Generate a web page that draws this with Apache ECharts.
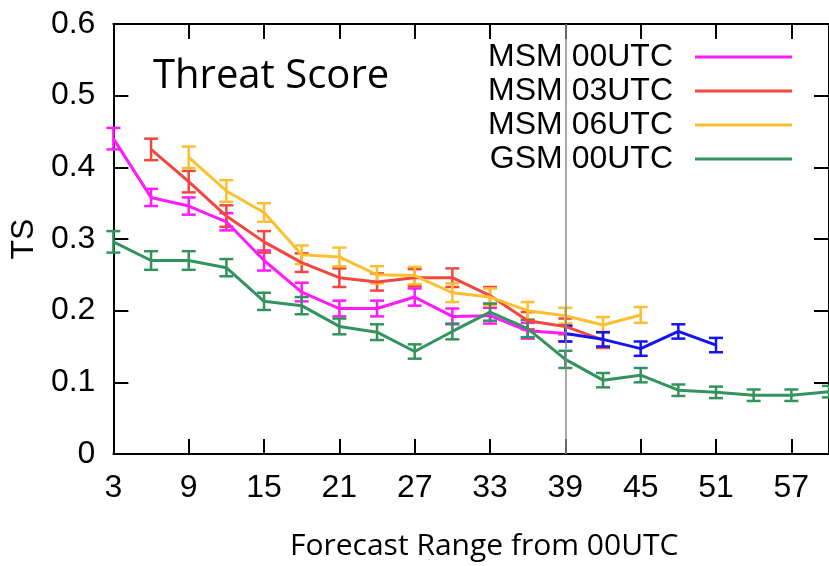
<!DOCTYPE html>
<html>
<head>
<meta charset="utf-8">
<script src="https://cdn.jsdelivr.net/npm/echarts@6/dist/echarts.min.js"></script>
<style>
  html, body { margin: 0; padding: 0; background: #fff; }
  #chart { width: 829px; height: 566px; }
</style>
</head>
<body>
<div id="chart"></div>
<script>
// forecast hours (x axis)
const hours = [3, 6, 9, 12, 15, 18, 21, 24, 27, 30, 33, 36, 39, 42, 45, 48, 51, 54, 57, 60];
const xTicks = [3, 9, 15, 21, 27, 33, 39, 45, 51, 57];

// threat score per model run (null = no data)
const msm00 = [0.44, 0.358, 0.346, 0.324, 0.27, 0.226, 0.203, 0.203, 0.219, 0.192, 0.193, 0.172, 0.168, null, null, null, null, null, null, null];
const msm03 = [null, 0.425, 0.38, 0.332, 0.296, 0.267, 0.246, 0.24, 0.246, 0.246, 0.221, 0.186, 0.178, 0.159, null, null, null, null, null, null];
const msm06 = [null, null, 0.414, 0.367, 0.337, 0.278, 0.275, 0.25, 0.249, 0.225, 0.219, 0.2, 0.193, 0.18, 0.194, null, null, null, null, null];
const gsm00 = [0.296, 0.27, 0.27, 0.26, 0.213, 0.207, 0.178, 0.17, 0.143, 0.171, 0.198, 0.175, 0.132, 0.103, 0.11, 0.089, 0.086, 0.082, 0.082, 0.087];
const msm00next = [null, null, null, null, null, null, null, null, null, null, null, null, 0.168, 0.16, 0.147, 0.171, 0.152, null, null, null];

// error bar half widths
const msm00Err = [0.015, 0.012, 0.012, 0.012, 0.014, 0.013, 0.011, 0.011, 0.012, 0.011, 0.011, 0.011, 0.011, null, null, null, null, null, null, null];
const msm03Err = [null, 0.015, 0.015, 0.015, 0.015, 0.013, 0.013, 0.012, 0.012, 0.013, 0.012, 0.012, 0.011, 0.011, null, null, null, null, null, null];
const msm06Err = [null, null, 0.015, 0.015, 0.013, 0.013, 0.013, 0.012, 0.012, 0.013, 0.012, 0.012, 0.011, 0.011, 0.011, null, null, null, null, null];
const gsm00Err = [0.015, 0.013, 0.013, 0.012, 0.012, 0.012, 0.011, 0.011, 0.01, 0.011, 0.012, 0.012, 0.012, 0.01, 0.01, 0.008, 0.008, 0.008, 0.008, 0.008];
const msm00nextErr = [null, null, null, null, null, null, null, null, null, null, null, null, 0.011, 0.01, 0.01, 0.01, 0.01, null, null, null];

const lineFont = 'Liberation Sans, Arial, sans-serif';
const labelFont = 'Open Sans, Noto Sans, sans-serif';

const chart = echarts.init(document.getElementById('chart'));

const toPairs = (vals) => hours.map((h, i) => [h, vals[i]]).filter(p => p[1] != null);
const toErr = (vals, errs) => hours
  .map((h, i) => [h, vals[i], errs[i]])
  .filter(p => p[1] != null)
  .map(p => [p[0], p[1] - p[2], p[1] + p[2]]);

// error bars drawn with caps
const errorSeries = (name, vals, errs, color) => ({
  name: name,
  type: 'custom',
  silent: true,
  data: toErr(vals, errs),
  renderItem: (params, api) => {
    const lo = api.coord([api.value(0), api.value(1)]);
    const hi = api.coord([api.value(0), api.value(2)]);
    const w = 7;
    const style = { stroke: color, lineWidth: 2.5 };
    return {
      type: 'group',
      children: [
        { type: 'line', shape: { x1: lo[0], y1: lo[1], x2: hi[0], y2: hi[1] }, style: style },
        { type: 'line', shape: { x1: lo[0] - w, y1: lo[1], x2: lo[0] + w, y2: lo[1] }, style: style },
        { type: 'line', shape: { x1: hi[0] - w, y1: hi[1], x2: hi[0] + w, y2: hi[1] }, style: style }
      ]
    };
  }
});

const lineSeries = (name, vals, color) => ({
  name: name,
  type: 'line',
  data: toPairs(vals),
  showSymbol: false,
  symbol: 'none',
  color: color,
  lineStyle: { color: color, width: 3 },
  silent: true
});

// mirrored frame: ticks point inward on all four sides
const axisLine = { show: true, onZero: false, lineStyle: { color: '#000', width: 2 } };
const axisTick = { show: true, inside: true, length: 15, lineStyle: { color: '#000', width: 2 } };

const option = {
  animation: false,
  grid: { left: 110, right: -2, top: 24, bottom: 111 },
  title: {
    text: 'Threat Score',
    left: 148,
    top: 52,
    textStyle: { fontFamily: labelFont, fontSize: 40, fontWeight: 'normal', color: '#000' }
  },
  legend: {
    data: ['MSM 00UTC', 'MSM 03UTC', 'MSM 06UTC', 'GSM 00UTC'],
    orient: 'vertical',
    align: 'right',
    right: 32,
    top: 35,
    itemWidth: 97,
    itemHeight: 3,
    itemGap: 0,
    icon: 'rect',
    selectedMode: false,
    textStyle: { fontFamily: lineFont, fontSize: 32, color: '#000', lineHeight: 34, padding: [0, 17, 0, 0] }
  },
  xAxis: [
    {
      type: 'value',
      position: 'bottom',
      min: 3,
      max: 60,
      interval: 6,
      name: 'Forecast Range from 00UTC',
      nameLocation: 'middle',
      nameGap: 77,
      nameTextStyle: { fontFamily: labelFont, fontSize: 30, color: '#000', padding: [0, 0, 0, 26] },
      axisLine: axisLine,
      axisTick: axisTick,
      splitLine: { show: false },
      axisLabel: {
        fontFamily: lineFont, fontSize: 32, color: '#000', margin: 18, showMaxLabel: false,
        formatter: v => (xTicks.indexOf(v) >= 0 ? String(v) : '')
      }
    },
    {
      type: 'value',
      position: 'top',
      min: 3,
      max: 60,
      interval: 6,
      axisLine: axisLine,
      axisTick: axisTick,
      splitLine: { show: false },
      axisLabel: { show: false }
    }
  ],
  yAxis: [
    {
      type: 'value',
      position: 'left',
      min: 0,
      max: 0.6,
      interval: 0.1,
      name: 'TS',
      nameLocation: 'middle',
      nameGap: 60,
      nameRotate: 90,
      nameTextStyle: { fontFamily: lineFont, fontSize: 32, color: '#000' },
      axisLine: axisLine,
      axisTick: axisTick,
      splitLine: { show: false },
      axisLabel: { fontFamily: lineFont, fontSize: 32, color: '#000', margin: 18 }
    },
    {
      type: 'value',
      position: 'right',
      min: 0,
      max: 0.6,
      interval: 0.1,
      axisLine: axisLine,
      axisTick: axisTick,
      splitLine: { show: false },
      axisLabel: { show: false }
    }
  ],
  series: [
    lineSeries('MSM 00UTC', msm00, '#ff1aff'),
    errorSeries('msm00-err', msm00, msm00Err, '#ff1aff'),
    lineSeries('MSM 03UTC', msm03, '#f2473f'),
    errorSeries('msm03-err', msm03, msm03Err, '#f2473f'),
    lineSeries('MSM 06UTC', msm06, '#fcbf30'),
    errorSeries('msm06-err', msm06, msm06Err, '#fcbf30'),
    Object.assign(lineSeries('GSM 00UTC', gsm00, '#33935c'), {
      markLine: {
        silent: true,
        symbol: 'none',
        label: { show: false },
        lineStyle: { color: '#8a8a8a', width: 1.5, type: 'solid' },
        data: [{ xAxis: 39 }]
      }
    }),
    errorSeries('gsm00-err', gsm00, gsm00Err, '#33935c'),
    lineSeries('MSM 00UTC next', msm00next, '#1414f0'),
    errorSeries('msm00next-err', msm00next, msm00nextErr, '#1414f0')
  ]
};

chart.setOption(option);
</script>
</body>
</html>
